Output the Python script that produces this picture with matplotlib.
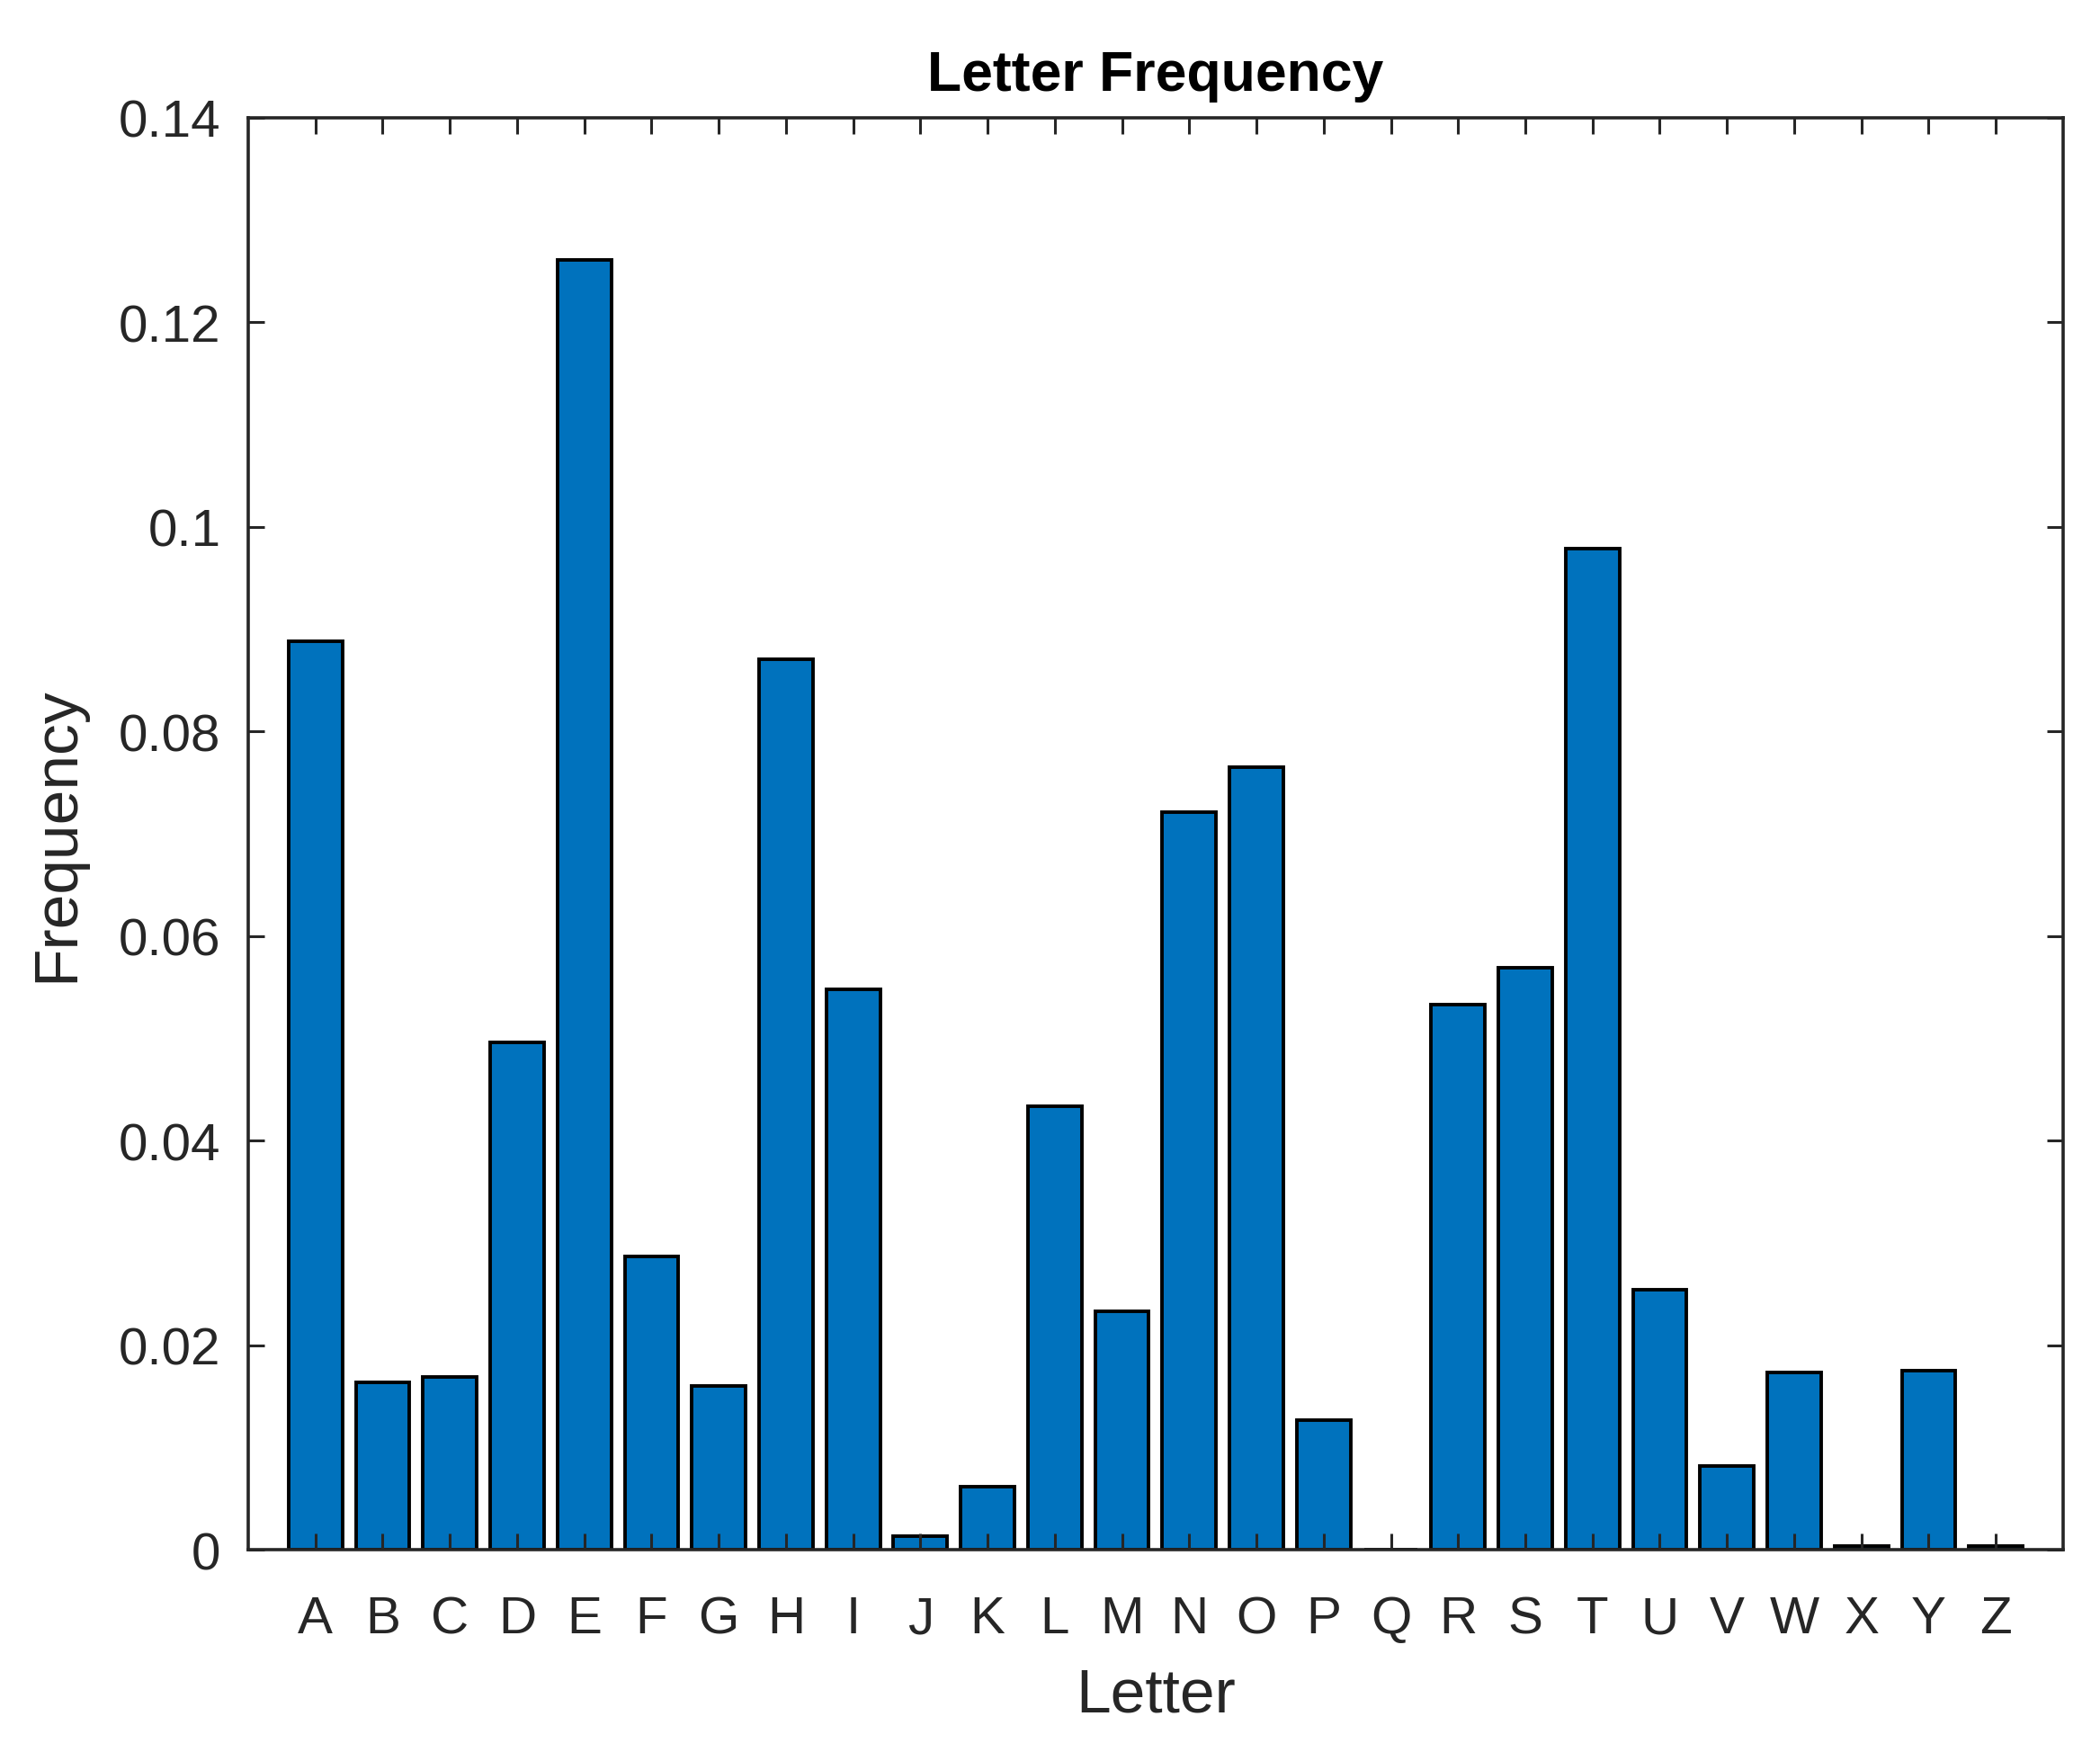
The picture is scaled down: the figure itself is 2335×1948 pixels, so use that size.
import numpy as np
import matplotlib
matplotlib.use("Agg")
import matplotlib.pyplot as plt

# letter frequencies
letters = list("ABCDEFGHIJKLMNOPQRSTUVWXYZ")
freq = [0.0888, 0.0164, 0.0169, 0.0496, 0.1261, 0.0287, 0.0160, 0.0871, 0.0548,
        0.0013, 0.0062, 0.0434, 0.0233, 0.0721, 0.0765, 0.0127, 0.0, 0.0533,
        0.0569, 0.0979, 0.0254, 0.0082, 0.0173, 0.0004, 0.0175, 0.0004]
yticks = [0, 0.02, 0.04, 0.06, 0.08, 0.1, 0.12, 0.14]
ylabels = ["0", "0.02", "0.04", "0.06", "0.08", "0.1", "0.12", "0.14"]

plt.rcParams['font.family'] = ['Liberation Sans', 'DejaVu Sans']
grey = '#262626'

fig = plt.figure(figsize=(23.35, 19.49), dpi=100)
ax = fig.add_axes([0.1182, 0.1154, 0.8642, 0.8169])

x = np.arange(1, len(letters) + 1)
ax.bar(x, freq, width=0.8, color='#0072BD', edgecolor='black', linewidth=2.8)

ax.set_xlim(0, 27)
ax.set_ylim(0, 0.14)
ax.set_xticks(x)
ax.set_xticklabels(letters)
ax.set_yticks(yticks)
ax.set_yticklabels(ylabels)

ax.tick_params(axis='both', direction='in', length=13, width=2.2, colors=grey,
               labelsize=42, top=True, right=True)
ax.tick_params(axis='x', pad=36)
ax.tick_params(axis='y', pad=22)
for s in ax.spines.values():
    s.set_linewidth(2.6)
    s.set_color(grey)

ax.set_title('Letter Frequency', fontsize=45, fontweight='bold', pad=22)
ax.set_xlabel('Letter', fontsize=50, color=grey, labelpad=18)
ax.set_ylabel('Frequency', fontsize=50, color=grey, labelpad=26)

fig.savefig('out.png', dpi=100)
